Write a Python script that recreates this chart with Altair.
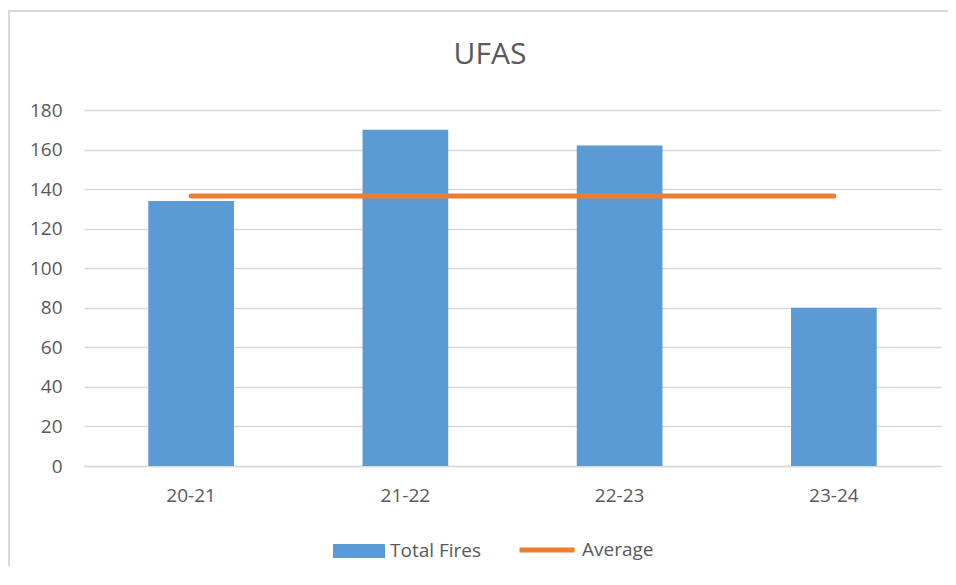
import altair as alt
import pandas as pd

categories = ["20-21", "21-22", "22-23", "23-24"]
total_fires = [134, 170, 162, 80]
average = [136.5, 136.5, 136.5, 136.5]
y_ticks = [0, 20, 40, 60, 80, 100, 120, 140, 160, 180]

TEXT = "#595959"
GRID = "#d9d9d9"
FONT = "Open Sans"

df = pd.DataFrame({
    "season": categories,
    "fires": total_fires,
    "avg": average,
    "bar_series": ["Total Fires"] * len(categories),
    "line_series": ["Average"] * len(categories),
})

x_axis = alt.Axis(title=None, labelAngle=0, ticks=False, grid=False,
                  domainColor=GRID, domainWidth=1.5, labelPadding=20,
                  labelFontSize=19, labelColor=TEXT, labelFont=FONT)
y_axis = alt.Axis(title=None, values=y_ticks, tickCount=10, domain=False, ticks=False,
                  labelOverlap=False, gridColor=GRID, gridWidth=1.5,
                  labelPadding=22, labelFontSize=19, labelColor=TEXT,
                  labelFont=FONT)
x_scale = alt.Scale(paddingInner=0.6, paddingOuter=0.3)
y_scale = alt.Scale(domain=[0, 180], nice=False)

bars = alt.Chart(df).mark_bar(color="#5b9bd5").encode(
    x=alt.X("season:N", sort=categories, scale=x_scale, axis=x_axis),
    y=alt.Y("fires:Q", scale=y_scale, axis=y_axis),
    fill=alt.Fill("bar_series:N",
                  scale=alt.Scale(domain=["Total Fires"], range=["#5b9bd5"]),
                  legend=alt.Legend(title=None, orient="none", legendX=249, legendY=415,
                                    symbolType="M-1,-0.27L1,-0.27L1,0.27L-1,0.27Z",
                                    symbolSize=2704, symbolStrokeWidth=0,
                                    labelFontSize=19, labelColor=TEXT, labelFont=FONT,
                                    labelOffset=5)),
)

line = alt.Chart(df).mark_line(strokeWidth=5, strokeCap="round").encode(
    x=alt.X("season:N", sort=categories, scale=x_scale, axis=x_axis),
    y=alt.Y("avg:Q", scale=y_scale, axis=y_axis),
    stroke=alt.Stroke("line_series:N",
                      scale=alt.Scale(domain=["Average"], range=["#ed7d31"]),
                      legend=alt.Legend(title=None, orient="none", legendX=433, legendY=410,
                                        symbolType="stroke", symbolSize=3025,
                                        symbolStrokeWidth=5,
                                        labelFontSize=19, labelColor=TEXT, labelFont=FONT,
                                        labelOffset=5)),
)

one = pd.DataFrame({"k": [0]})
title = alt.Chart(one).mark_text(fontSize=30, font=FONT, color=TEXT, align="center",
                                 baseline="alphabetic").encode(
    x=alt.value(406), y=alt.value(-46), text=alt.value("UFAS"))

border_left = alt.Chart(one).mark_rule(color=GRID, strokeWidth=2).encode(
    x=alt.value(-75), y=alt.value(-100), y2=alt.value(470))
border_top = alt.Chart(one).mark_rule(color=GRID, strokeWidth=2).encode(
    x=alt.value(-76), x2=alt.value(864), y=alt.value(-99))

chart = alt.layer(border_left, border_top, bars, line, title).properties(
    width=857, height=356,
    padding={"left": 76, "top": 102, "right": 7, "bottom": 100},
    autosize=alt.AutoSizeParams(type="none"),
).configure_view(stroke=None)

chart.save("out.html", embed_options={"renderer": "svg", "actions": False})
